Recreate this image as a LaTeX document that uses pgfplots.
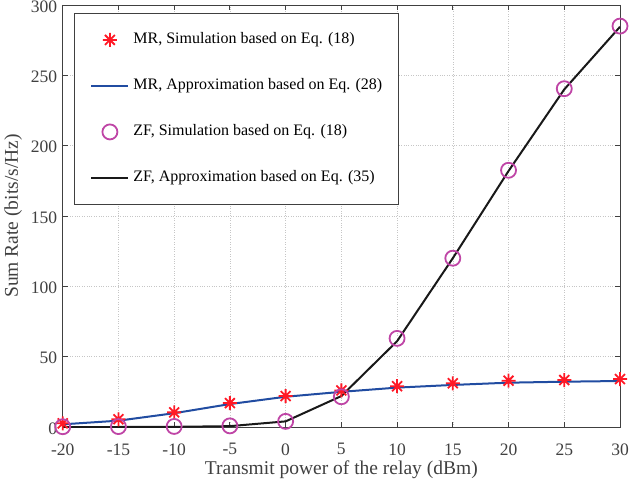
\documentclass[border=0pt]{standalone}
\usepackage{fontspec}
\setmainfont{Liberation Serif}
\usepackage{pgfplots}
\pgfplotsset{compat=1.18}
\definecolor{axgray}{rgb}{0.25,0.25,0.25}
\definecolor{mrred}{rgb}{1,0.1,0.15}
\definecolor{mrblue}{rgb}{0.13,0.30,0.63}
\definecolor{zfmag}{rgb}{0.75,0.27,0.65}
\pgfdeclareplotmark{ast8}{%
  \pgfpathmoveto{\pgfqpoint{0pt}{\pgfplotmarksize}}\pgfpathlineto{\pgfqpoint{0pt}{-\pgfplotmarksize}}%
  \pgfpathmoveto{\pgfqpoint{\pgfplotmarksize}{0pt}}\pgfpathlineto{\pgfqpoint{-\pgfplotmarksize}{0pt}}%
  \pgfpathmoveto{\pgfpointpolar{45}{\pgfplotmarksize}}\pgfpathlineto{\pgfpointpolar{225}{\pgfplotmarksize}}%
  \pgfpathmoveto{\pgfpointpolar{135}{\pgfplotmarksize}}\pgfpathlineto{\pgfpointpolar{315}{\pgfplotmarksize}}%
  \pgfusepathqstroke}
\begin{document}
\begin{tikzpicture}
\begin{axis}[
  name=ax,
  scale only axis,
  width=557.3pt, height=422pt,
  xmin=-20, xmax=30, ymin=0, ymax=300,
  xtick={-20,-15,...,30},
  ytick={0,50,...,300},
  tick pos=both, tick align=inside,
  major tick length=5pt,
  axis line style={axgray, line width=0.8pt},
  every tick/.style={axgray, line width=0.8pt},
  grid=major,
  major grid style={dotted, gray!45, line width=0.6pt},
  /pgf/number format/assume math mode=true,
  ticklabel style={font=\fontsize{17.5}{20}\selectfont, text=axgray},
  xticklabel style={yshift=-13pt},
  yticklabel style={xshift=-2pt, yshift=-1.5pt},
  xlabel={Transmit power of the relay (dBm)},
  ylabel={Sum Rate (bits/s/Hz)},
  label style={font=\fontsize{19.5}{22}\selectfont, text=axgray},
  xlabel style={yshift=1pt},
  ylabel style={yshift=2pt},
  legend cell align=left,
  legend image code/.code={\draw[mark repeat=2,mark phase=2,#1] plot coordinates {(0pt,0pt) (18.5pt,0pt) (37pt,0pt)};},
  legend style={
    at={(0.0203,0.981)}, anchor=north west,
    draw=axgray, line width=0.8pt,
    font=\fontsize{16}{19}\selectfont,
    inner xsep=16pt, inner ysep=19pt,
    row sep=31pt,
    nodes={inner sep=0pt, text height=11pt, text depth=4pt},
    /tikz/every odd column/.append style={column sep=4pt},
  },
]
\addplot[only marks, mark=ast8, mark size=7pt, mrred, line width=1.8pt]
  coordinates {(-20,2.6) (-15,5.5) (-10,10.4) (-5,17) (0,22) (5,26) (10,29) (15,31.1) (20,32.9) (25,33.4) (30,34.1)};
\addlegendentry{MR, Simulation based on Eq. (18)}
\addplot[mrblue, line width=2pt, no marks]
  coordinates {(-20,1.9) (-15,4.5) (-10,9.8) (-5,16.3) (0,21.5) (5,25) (10,28) (15,29.9) (20,31.5) (25,32.2) (30,32.7)};
\addlegendentry{MR, Approximation based on Eq. (28)}
\addplot[only marks, mark=o, mark size=7.5pt, zfmag, line width=1.8pt]
  coordinates {(-20,0.2) (-15,0.3) (-10,0.4) (-5,0.8) (0,4) (5,21.5) (10,63) (15,120) (20,182.5) (25,240.5) (30,285)};
\addlegendentry{ZF, Simulation based on Eq. (18)}
\addplot[black!90, line width=2pt, no marks]
  coordinates {(-20,0) (-15,0) (-10,0.1) (-5,0.6) (0,4) (5,22) (10,61) (15,120) (20,182) (25,240) (30,284.5)};
\addlegendentry{ZF, Approximation based on Eq. (35)}
\end{axis}
\pgfresetboundingbox
\useasboundingbox ([shift={(-62.7pt,-55pt)}]ax.south west) rectangle ([shift={(9pt,5pt)}]ax.north east);
\end{tikzpicture}
\end{document}
